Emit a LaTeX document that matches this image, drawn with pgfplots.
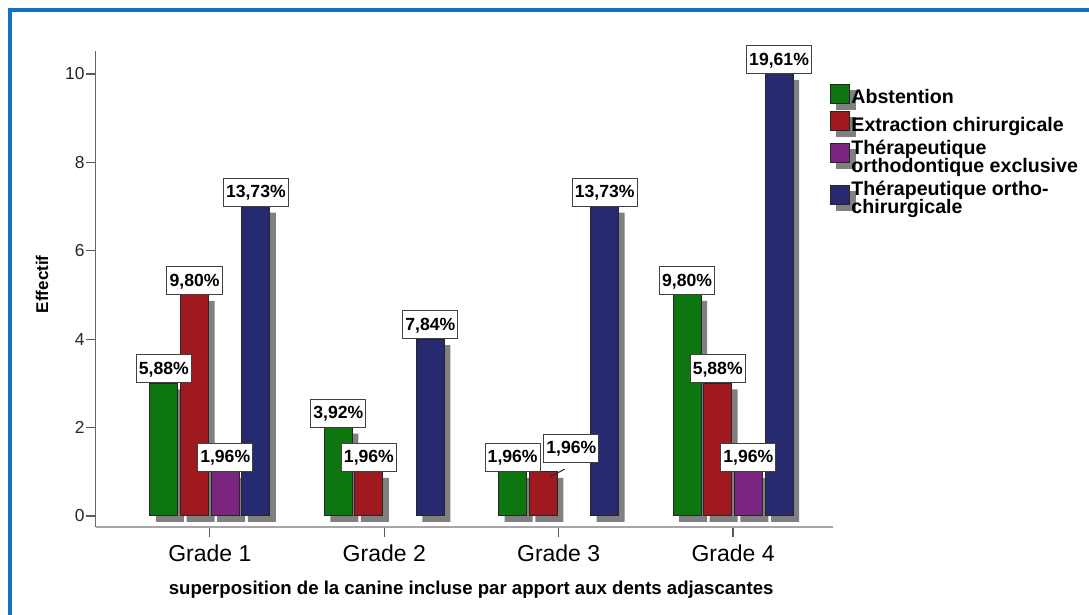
\documentclass[border=0pt]{standalone}
\usepackage{fontspec}
\setmainfont{Liberation Sans}
\usepackage{pgfplots}
\usepackage{pgfplotstable}
\pgfplotsset{compat=1.18}

\definecolor{absgreen}{RGB}{14,118,14}
\definecolor{extred}{RGB}{160,25,30}
\definecolor{therpurple}{RGB}{122,37,128}
\definecolor{orthoblue}{RGB}{40,42,112}
\definecolor{shadowgray}{RGB}{128,128,128}
\definecolor{framebl}{RGB}{18,114,196}

% counts per grade, with the percentage labels (n = 51)
\pgfplotstableread{
grade abst absl      extr extl      ther therl     ortho orthol
1     3    5,88\%    5    9,80\%    1    1,96\%    7     13,73\%
2     2    3,92\%    1    1,96\%    nan  -         4     7,84\%
3     1    1,96\%    1    1,96\%    nan  -         7     13,73\%
4     5    9,80\%    3    5,88\%    1    1,96\%    10    19,61\%
}\grades

\pgfplotsset{
  sh/.style={ybar, bar width=14pt, bar shift=#1, fill=shadowgray, draw=none,
    xshift=3pt, yshift=-3pt, forget plot},
  br/.style 2 args={ybar, bar width=14pt, bar shift=#1, fill=#2,
    draw=black!85, line width=0.5pt},
  lb/.style={ybar, bar width=14pt, bar shift=#1, draw=none, fill=none, forget plot,
    point meta=explicit symbolic, nodes near coords,
    every node near coord/.append style={anchor=south, xshift=#1, fill=white, draw=black!75,
      line width=0.5pt, font=\bfseries\fontsize{8.8}{10}\selectfont,
      inner xsep=1.3pt, inner ysep=3.5pt, text height=6.3pt, text depth=0.7pt}},
}

\begin{document}
\begin{tikzpicture}
\useasboundingbox (-48pt,-44pt) rectangle (496.5pt,263.5pt);
\draw[framebl, line width=2pt] (-43pt,-46pt) -- (-43pt,258.5pt) -- (498pt,258.5pt);
\begin{axis}[
  scale only axis, width=368.5pt, height=238pt,
  xmin=0.347, xmax=4.573, ymin=-0.249, ymax=10.52,
  clip=false,
  axis x line*=bottom, axis y line*=left,
  x axis line style={draw=black!35, line width=0.7pt, -},
  y axis line style={draw=black!60, line width=0.5pt, -},
  tick align=outside, major tick length=5pt,
  tick style={draw=black!65, line width=0.6pt},
  xtick={1,2,3,4}, xticklabels={Grade 1,Grade 2,Grade 3,Grade 4},
  ytick={0,2,4,6,8,10},
  /pgf/number format/assume math mode=true,
  x tick label style={font=\fontsize{11.5}{13}\selectfont, yshift=-0.5pt},
  y tick label style={font=\fontsize{8.7}{10}\selectfont, text=black!85, inner xsep=0.5pt},
  xlabel={superposition de la canine incluse par apport aux dents adjascantes},
  ylabel={Effectif},
  x label style={at={(axis description cs:0.509,0)}, anchor=center, yshift=-31.5pt,
    font=\bfseries\fontsize{9.3}{11}\selectfont},
  y label style={at={(axis description cs:0,0.51)}, anchor=center, yshift=27pt,
    font=\bfseries\fontsize{8.5}{10}\selectfont},
  legend style={at={(rel axis cs:0.996,0.931)}, anchor=north west, draw=none, fill=none,
    inner sep=0pt, row sep=1.8pt, column sep=0pt, font=\bfseries\fontsize{9.8}{9}\selectfont,
    nodes={inner sep=0.5pt, align=left}},
  legend cell align=left,
  legend image code/.code={
    \fill[shadowgray, overlay] (3pt,-5.75pt) rectangle (12.5pt,3.75pt);
    \draw[#1] (0pt,-2.75pt) rectangle (9.5pt,6.75pt);
  },
]
% shadows
\addplot[sh=-23pt] table[x=grade, y=abst] {\grades};
\addplot[sh=-7.67pt] table[x=grade, y=extr] {\grades};
\addplot[sh=7.67pt] table[x=grade, y=ther] {\grades};
\addplot[sh=23pt] table[x=grade, y=ortho] {\grades};
% bars
\addplot[br={-23pt}{absgreen}] table[x=grade, y=abst] {\grades};
\addlegendentry{Abstention}
\addplot[br={-7.67pt}{extred}] table[x=grade, y=extr] {\grades};
\addlegendentry{Extraction chirurgicale}
\addplot[br={7.67pt}{therpurple}] table[x=grade, y=ther] {\grades};
\addlegendentry{Thérapeutique\\[-1pt]orthodontique exclusive}
\addplot[br={23pt}{orthoblue}] table[x=grade, y=ortho] {\grades};
\addlegendentry{Thérapeutique ortho-\\[-1pt]chirurgicale}
% percentage labels
\addplot[lb=-23pt] table[x=grade, y=abst, meta=absl] {\grades};
\addplot[lb=-7.67pt, skip coords between index={2}{3}] table[x=grade, y=extr, meta=extl] {\grades};
\addplot[lb=-7.67pt, skip coords between index={0}{2}, skip coords between index={3}{4},
  every node near coord/.append style={xshift=14pt, yshift=4.5pt}]
  table[x=grade, y=extr, meta=extl] {\grades};
\addplot[lb=7.67pt] table[x=grade, y=ther, meta=therl] {\grades};
\addplot[lb=23pt] table[x=grade, y=ortho, meta=orthol] {\grades};
\draw[black!85, line width=0.5pt] ([xshift=-4.5pt]axis cs:3,0.88) -- ([xshift=3pt]axis cs:3,1.06);
\end{axis}
\end{tikzpicture}
\end{document}
